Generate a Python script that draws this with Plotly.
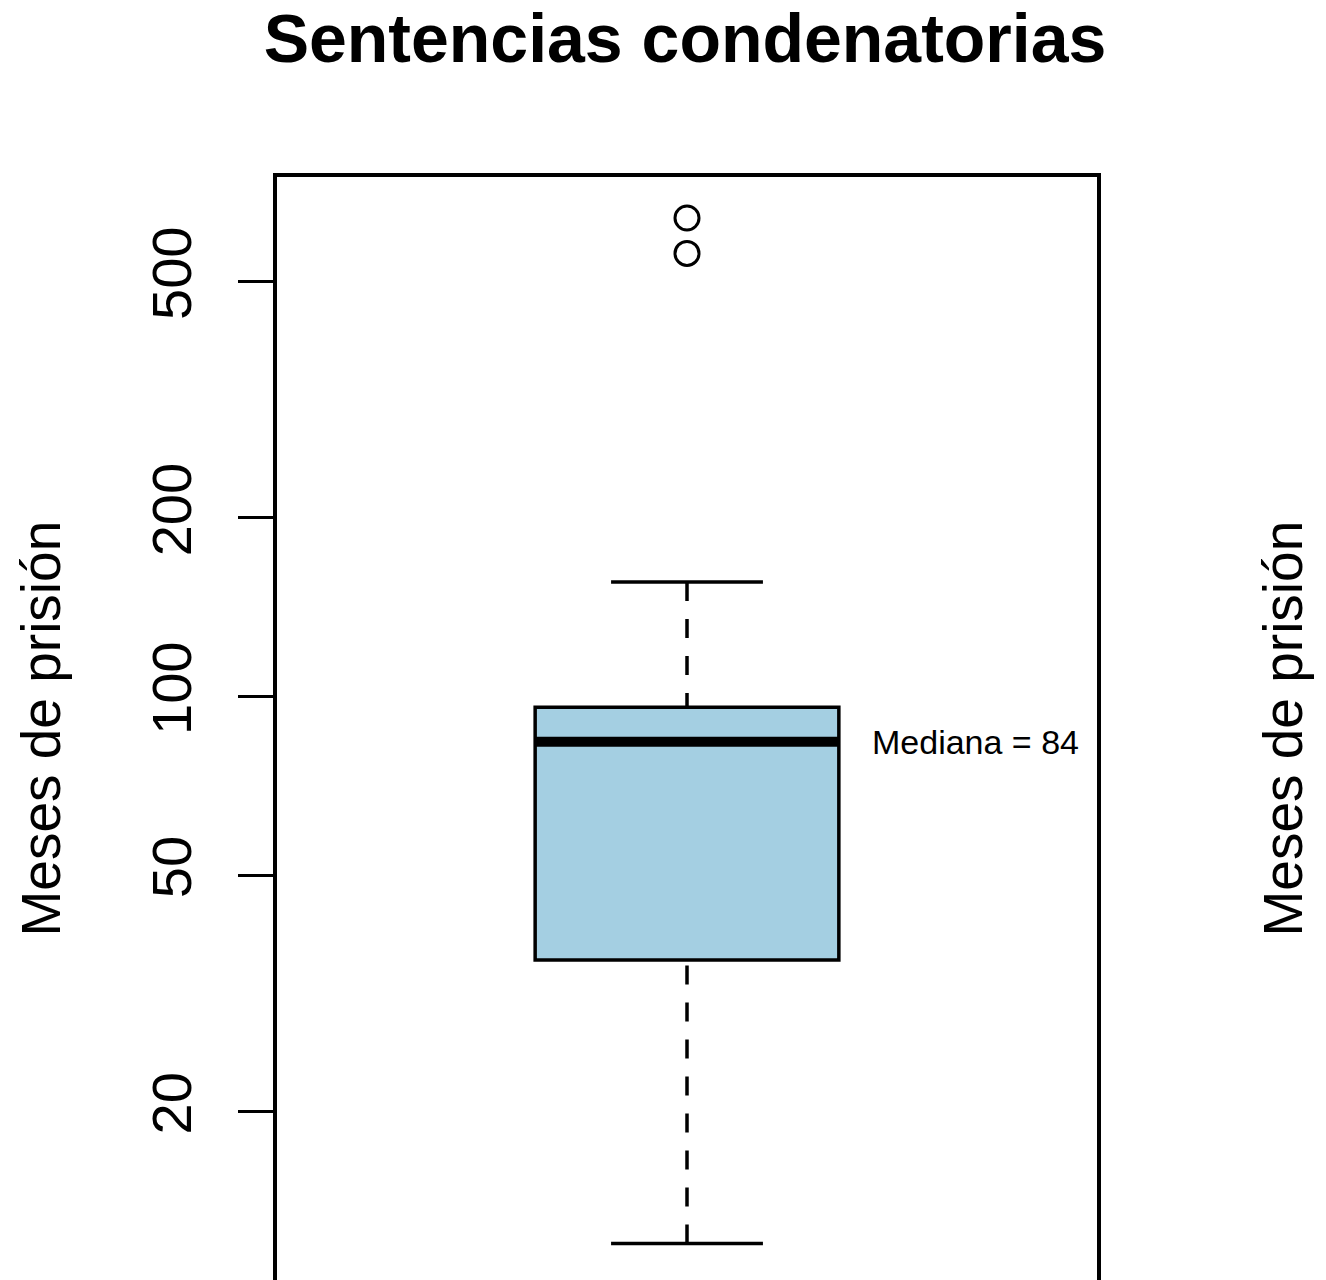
import numpy as np
import plotly.graph_objects as go

# Box statistics (months in prison)
categories = ["Sentencias condenatorias"]
q1 = [36]
median = [84]
q3 = [96]
whisker_low = [12]
whisker_high = [156]
outliers = [640, 558]
tick_vals = [20, 50, 100, 200, 500]
tick_text = ["20", "50", "100", "200", "500"]
median_label = "Mediana = 84"

FONT = "Liberation Sans, Arial, Helvetica, sans-serif"
xpos = 1.0
box_w = 0.4
cap_w = box_w * 0.5

fig = go.Figure()

# dashed whiskers (from whisker end toward box)
for lo, hi in [(whisker_high[0], q3[0]), (whisker_low[0], q1[0])]:
    fig.add_trace(go.Scatter(x=[xpos, xpos], y=[lo, hi], mode="lines",
                             line=dict(color="black", width=3.5, dash="19px,18px"),
                             showlegend=False, hoverinfo="skip"))
# staples
for v in [whisker_high[0], whisker_low[0]]:
    fig.add_trace(go.Scatter(x=[xpos - cap_w / 2, xpos + cap_w / 2], y=[v, v], mode="lines",
                             line=dict(color="black", width=3.5),
                             showlegend=False, hoverinfo="skip"))

# box
fig.add_trace(go.Box(x=[xpos], q1=q1, median=median, q3=q3,
                     lowerfence=q1, upperfence=q3, width=box_w,
                     fillcolor="#A4CFE2", line=dict(color="black", width=3.5),
                     boxpoints=False, showlegend=False, hoverinfo="skip",
                     name=categories[0]))
# thick median line
fig.add_trace(go.Scatter(x=[xpos - box_w / 2, xpos + box_w / 2], y=[median[0], median[0]],
                         mode="lines", line=dict(color="black", width=10),
                         showlegend=False, hoverinfo="skip"))
# outliers
fig.add_trace(go.Scatter(x=[xpos] * len(outliers), y=outliers, mode="markers",
                         marker=dict(symbol="circle-open", size=24, color="black",
                                     line=dict(width=3, color="black")),
                         showlegend=False, hoverinfo="skip"))

L, R_EDGE, T, B_EDGE = 277, 1097, 177, 1280

fig.update_layout(
    width=1326, height=1280,
    margin=dict(l=L, r=1326 - R_EDGE, t=T, b=1280 - B_EDGE),
    paper_bgcolor="white", plot_bgcolor="white",
    showlegend=False,
    title=dict(text="<b>Sentencias condenatorias</b>", x=685 / 1326, xref="container",
               y=1 - 38 / 1280, yref="container", xanchor="center", yanchor="middle",
               font=dict(family=FONT, size=68, color="black")),
    xaxis=dict(range=[0.46, 1.54], showgrid=False, zeroline=False,
               showticklabels=False, ticks="", side="top",
               showline=True, linecolor="black", linewidth=3.5),
    yaxis=dict(type="log", range=[1.0175, 2.8753], showgrid=False, zeroline=False,
               tickvals=tick_vals, ticktext=tick_text, tickangle=-90,
               ticks="outside", ticklen=35, tickwidth=3, tickcolor="black",
               ticklabelstandoff=25,
               tickfont=dict(family=FONT, size=56, color="black"),
               showline=True, mirror=True, linecolor="black", linewidth=3.5),
    annotations=[
        dict(text=median_label, x=1.38, y=np.log10(median[0]), xref="x", yref="y",
             showarrow=False, xanchor="center", yanchor="middle",
             font=dict(family=FONT, size=34, color="black")),
        dict(text="Meses de prisión", x=(40 - 277) / 820, y=0.5, xref="paper", yref="paper",
             textangle=-90, showarrow=False, xanchor="center", yanchor="middle",
             font=dict(family=FONT, size=55, color="black")),
        dict(text="Meses de prisión", x=(1282 - 277) / 820, y=0.5, xref="paper", yref="paper",
             textangle=-90, showarrow=False, xanchor="center", yanchor="middle",
             font=dict(family=FONT, size=55, color="black")),
    ],
)

fig.write_html("out.html", config={"displayModeBar": False},
               post_script="document.body.style.margin='0';document.body.style.overflow='hidden';")
